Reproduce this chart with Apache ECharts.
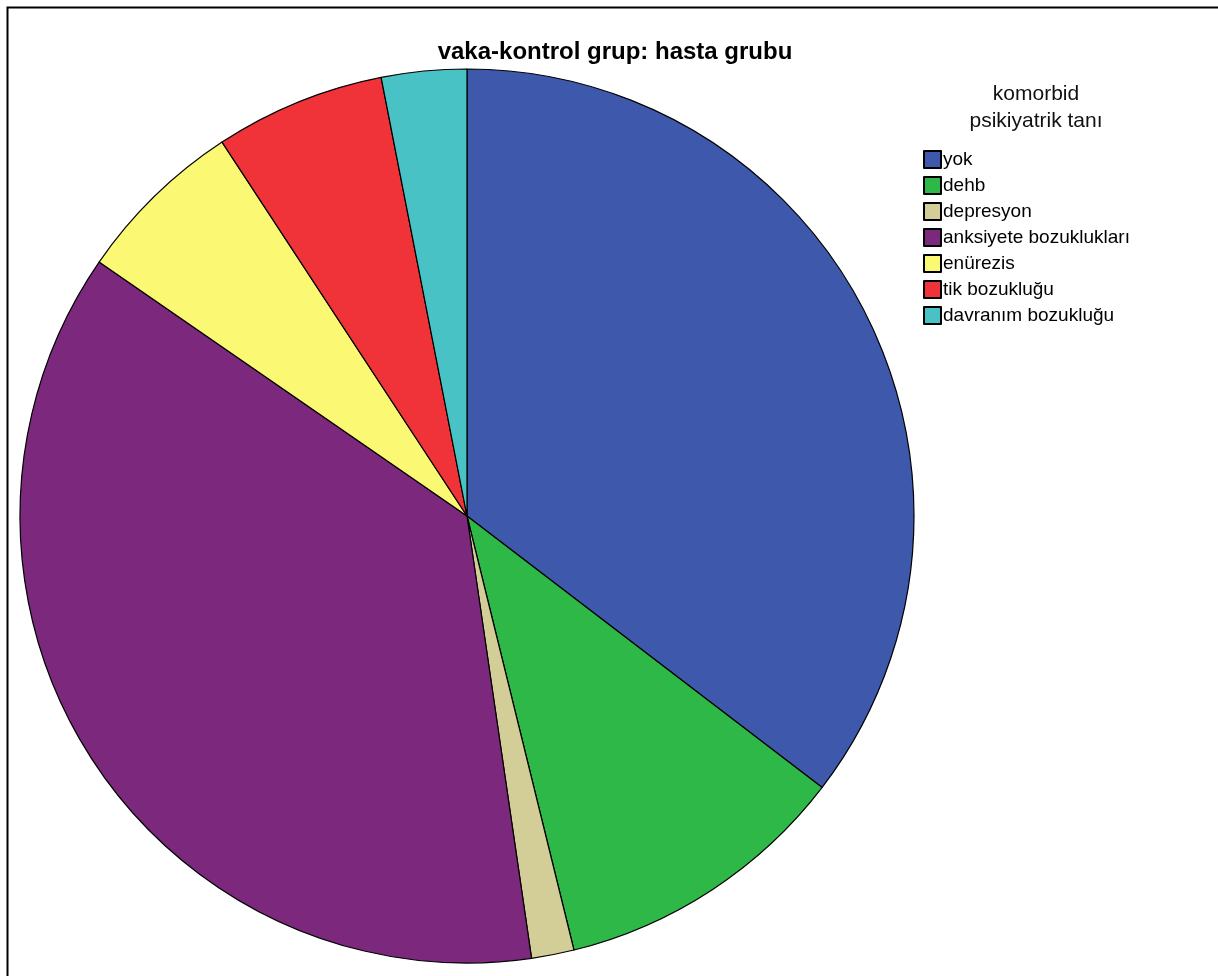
<!DOCTYPE html>
<html>
<head>
<meta charset="utf-8">
<script src="https://cdn.jsdelivr.net/npm/echarts@6/dist/echarts.min.js"></script>
<style>html,body{margin:0;padding:0;background:#fff;}#c{width:1218px;height:976px;}</style>
</head>
<body>
<div id="c"></div>
<script>
var categories = ['yok', 'dehb', 'depresyon', 'anksiyete bozuklukları', 'enürezis', 'tik bozukluğu', 'davranım bozukluğu'];
var counts = [23, 7, 1, 24, 4, 4, 2];
var colors = ['#3E58AC', '#2EB848', '#D3CE97', '#7C287D', '#FBF873', '#EF3338', '#48C2C5'];
var chartTitle = 'vaka-kontrol grup: hasta grubu';
var legendTitle = 'komorbid\npsikiyatrik tanı';

var chart = echarts.init(document.getElementById('c'), null, {renderer: 'canvas'});
var font = 'Arial, "Liberation Sans", sans-serif';
chart.setOption({
  backgroundColor: '#ffffff',
  animation: false,
  color: colors,
  title: [
    {text: chartTitle, left: 610, top: 35, textAlign: 'center',
     textStyle: {fontFamily: font, fontWeight: 'bold', fontSize: 24, color: '#000'}},
    {text: legendTitle, left: 1031, top: 76, textAlign: 'center',
     textStyle: {fontFamily: font, fontWeight: 'normal', fontSize: 21, lineHeight: 27, color: '#111'}}
  ],
  legend: {
    orient: 'vertical', left: 918, top: 145,
    itemWidth: 17, itemHeight: 17, itemGap: 7,
    icon: 'rect',
    textStyle: {fontFamily: font, fontSize: 19, lineHeight: 18, color: '#000', padding: [0, 0, 0, -3]},
    data: categories
  },
  graphic: [{
    type: 'rect', left: 5, top: 5, z: 100, silent: true,
    shape: {x: 0, y: 0, width: 1400, height: 1200},
    style: {fill: 'none', stroke: '#000', lineWidth: 2}
  }],
  series: [{
    type: 'pie',
    center: [467, 516],
    radius: 447,
    startAngle: 90,
    clockwise: true,
    label: {show: false},
    labelLine: {show: false},
    emphasis: {disabled: true},
    itemStyle: {borderColor: '#000', borderWidth: 1.2},
    data: categories.map(function (c, i) { return {name: c, value: counts[i]}; })
  }]
});
</script>
</body>
</html>
